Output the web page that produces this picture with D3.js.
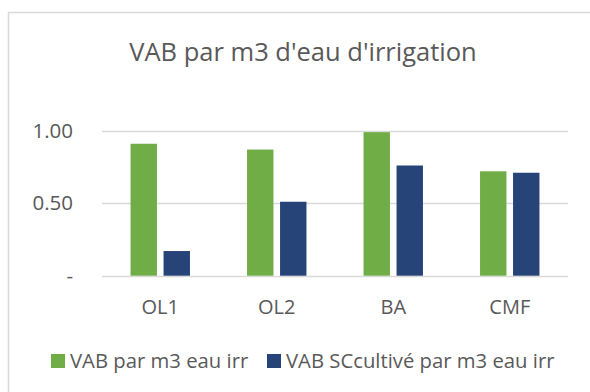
<!DOCTYPE html>
<html>
<head>
<meta charset="utf-8">
<script src="https://cdn.jsdelivr.net/npm/d3@7"></script>
<style>
  html, body { margin: 0; padding: 0; background: #fff; }
  svg { display: block; font-family: "Open Sans", sans-serif; }
</style>
</head>
<body>
<svg id="chart" width="590" height="392"></svg>
<script>
// Categories and series
const categories = ["OL1", "OL2", "BA", "CMF"];
const seriesNames = ["VAB par m3 eau irr", "VAB SCcultivé par m3 eau irr"];
const vabIrr = [0.91, 0.87, 0.99, 0.72];
const vabSCcultive = [0.17, 0.51, 0.76, 0.71];
const yTicks = [0, 0.5, 1.0];
const yTickLabels = ["-", "0.50", "1.00"];
const colors = ["#70ad47", "#264478"];

const svg = d3.select("#chart");
const textColor = "#595959";
const gridColor = "#d9d9d9";

// Outer chart frame
svg.append("rect")
  .attr("x", 8.5).attr("y", 12.5)
  .attr("width", 600).attr("height", 400)
  .attr("fill", "#fff")
  .attr("stroke", gridColor).attr("stroke-width", 1.5);

// Title
svg.append("text")
  .attr("x", 303).attr("y", 61)
  .attr("text-anchor", "middle")
  .attr("fill", textColor)
  .attr("font-size", 25.5)
  .text("VAB par m3 d'eau d'irrigation");

const plot = { left: 102, right: 568, top: 130.7, bottom: 275.7 };

const x0 = d3.scaleBand()
  .domain(categories)
  .range([plot.left, plot.right])
  .paddingInner(0.49)
  .paddingOuter(0.245);

const x1 = d3.scaleBand()
  .domain(seriesNames)
  .range([0, x0.bandwidth()])
  .paddingInner(0.2);

const y = d3.scaleLinear()
  .domain([0, 1])
  .range([plot.bottom, plot.top]);

// Gridlines
svg.append("g")
  .selectAll("line")
  .data(yTicks)
  .join("line")
  .attr("x1", plot.left).attr("x2", plot.right)
  .attr("y1", d => Math.round(y(d)) + 0.5)
  .attr("y2", d => Math.round(y(d)) + 0.5)
  .attr("stroke", gridColor)
  .attr("stroke-width", 1.5);

// Y axis labels
const yAxis = d3.axisLeft(y)
  .tickValues(yTicks)
  .tickFormat((d, i) => yTickLabels[i])
  .tickSize(0)
  .tickPadding(0);

const yG = svg.append("g")
  .attr("transform", `translate(${plot.left - 29},0)`)
  .call(yAxis);
yG.select(".domain").remove();
yG.selectAll("text")
  .attr("fill", textColor)
  .attr("font-size", 20.5)
  .attr("font-family", "Open Sans, sans-serif");

// Bars
const series = [vabIrr, vabSCcultive];
const groups = svg.append("g")
  .selectAll("g")
  .data(categories)
  .join("g")
  .attr("transform", d => `translate(${x0(d)},0)`);

groups.selectAll("rect")
  .data((d, i) => seriesNames.map((s, k) => ({ s, v: series[k][i], k })))
  .join("rect")
  .attr("x", d => x1(d.s))
  .attr("width", x1.bandwidth())
  .attr("y", d => y(d.v))
  .attr("height", d => y(0) - y(d.v))
  .attr("fill", d => colors[d.k]);

// X axis labels
const xAxis = d3.axisBottom(x0).tickSize(0).tickPadding(0);
const xG = svg.append("g")
  .attr("transform", `translate(0,${plot.bottom + 38.5})`)
  .call(xAxis);
xG.select(".domain").remove();
xG.selectAll("text")
  .attr("dy", 0)
  .attr("fill", textColor)
  .attr("font-size", 20)
  .attr("font-family", "Open Sans, sans-serif");

// Legend
const legendX = [51, 267];
const legend = svg.append("g")
  .selectAll("g")
  .data(seriesNames)
  .join("g")
  .attr("transform", (d, i) => `translate(${legendX[i]},354)`);
legend.append("rect")
  .attr("width", 14).attr("height", 14)
  .attr("fill", (d, i) => colors[i]);
legend.append("text")
  .attr("x", 19).attr("y", 14)
  .attr("fill", textColor)
  .attr("font-size", 20.3)
  .text(d => d);
</script>
</body>
</html>
